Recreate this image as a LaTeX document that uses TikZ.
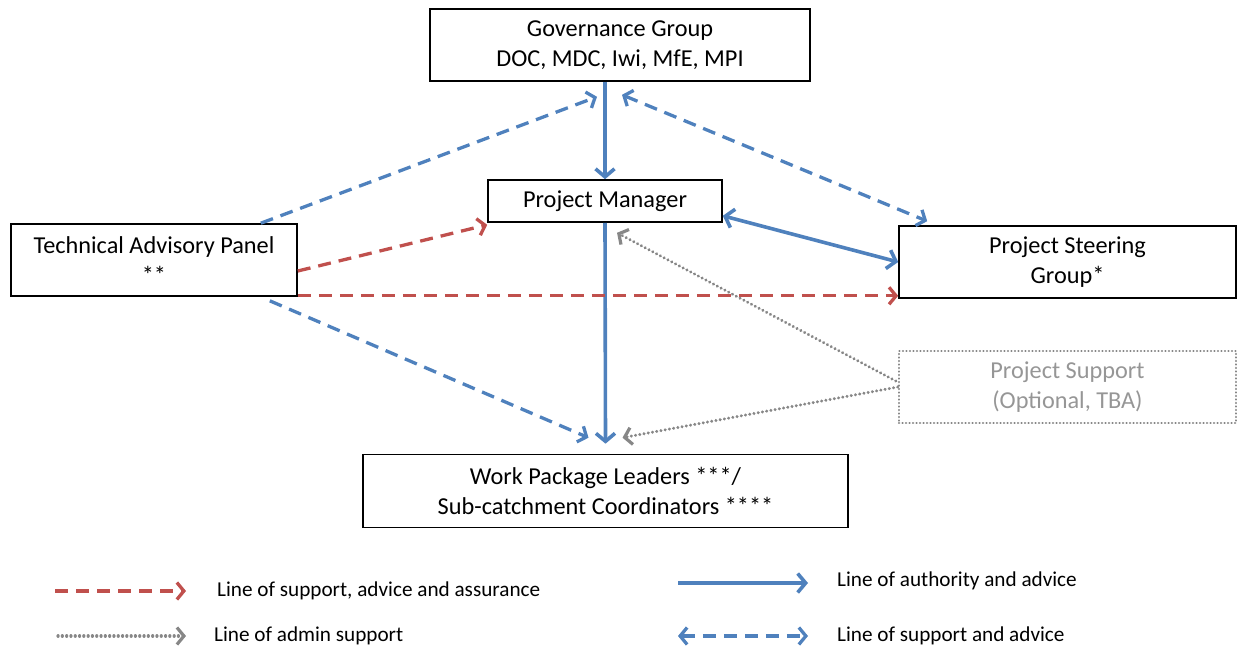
\documentclass[tikz,border=0pt]{standalone}
\usepackage{fontspec}
\setmainfont{Carlito}
\usetikzlibrary{arrows.meta}
\definecolor{ublue}{RGB}{79,129,189}
\definecolor{ured}{RGB}{192,80,77}
\definecolor{ugray}{RGB}{135,135,135}
\definecolor{utext}{RGB}{150,150,150}
\begin{document}
\begin{tikzpicture}[x=1pt,y=-1pt,
  box/.style={draw=black, line width=1.6pt, inner sep=0pt, align=center, font=\fontsize{24.3}{29.5}\selectfont},
  optbox/.style={box, draw=ugray, line width=2.4pt, dash pattern=on 0.1pt off 3.4pt, line cap=round, text=utext},
  legend/.style={inner sep=0pt, anchor=west, font=\fontsize{21.2}{24}\selectfont},
  authority/.style={draw=ublue, line width=3.6pt, -{Straight Barb[length=8pt,width=19pt]}},
  authboth/.style={authority, {Straight Barb[length=8pt,width=19pt]}-{Straight Barb[length=8pt,width=19pt]}},
  support/.style={draw=ublue, line width=3.3pt, dash pattern=on 13pt off 8pt, -{Straight Barb[length=7pt,width=17pt]}},
  suppboth/.style={support, {Straight Barb[length=7pt,width=17pt]}-{Straight Barb[length=7pt,width=17pt]}},
  assurance/.style={draw=ured, line width=3.3pt, dash pattern=on 13pt off 8pt, -{Straight Barb[length=7pt,width=17pt]}},
  admin/.style={draw=ugray, line width=3.2pt, dash pattern=on 0.1pt off 4.2pt, line cap=round, -{Straight Barb[length=7pt,width=17pt]}}
]
\useasboundingbox (0,0) rectangle (1237,647);

% boxes
\node[box, minimum width=380pt, minimum height=72pt] (gov) at (620,45) {Governance Group\\DOC, MDC, Iwi, MfE, MPI};
\node[box, minimum width=234pt, minimum height=42pt] (pm) at (605,201) {Project Manager};
\node[box, minimum width=286pt, minimum height=72pt] (tap) at (154,260) {Technical Advisory Panel\\**};
\node[box, minimum width=337pt, minimum height=72pt] (psg) at (1067.5,262) {Project Steering\\Group*};
\node[optbox, minimum width=337pt, minimum height=72pt] (ps) at (1067.5,387) {Project Support\\(Optional, TBA)};
\node[box, minimum width=485pt, minimum height=73pt] (wp) at (605.5,491) {Work Package Leaders ***/\\Sub-catchment Coordinators ****};

% connectors
\draw[authority] (pm |- gov.south) -- (pm.north);
\draw[authority] (pm.south) -- ([yshift=10pt]wp.north);
\draw[authboth] ([yshift=7pt]pm.south east) -- (psg.west);
\draw[suppboth] ([shift={(2pt,-13pt)}]gov.south) -- ([shift={(29pt,4pt)}]psg.north west);
\draw[support] ([xshift=-37pt]tap.north east) -- ([shift={(-23pt,-15pt)}]gov.south);
\draw[assurance] ([yshift=-11pt]tap.east) -- ([yshift=-2pt]pm.south west);
\coordinate (redh) at ([yshift=1pt]tap.south east);
\draw[assurance] (redh) -- (redh -| psg.west);
\draw[support] ([shift={(-28pt,-4pt)}]tap.south east) -- ([shift={(-17pt,16pt)}]wp.north);
\draw[admin] ([shift={(-2pt,6pt)}]ps.west) -- ([shift={(12pt,-10pt)}]pm.south);
\draw[admin] (ps.west) -- ([shift={(17pt,16pt)}]wp.north);

% legend
\node[legend] (l1) at (217,591) {Line of support, advice and assurance};
\node[legend] (l2) at (214,636) {Line of admin support};
\node[legend] (l3) at (837,581) {Line of authority and advice};
\node[legend] (l4) at (837,636) {Line of support and advice};
\coordinate (l1a) at (55,591);
\coordinate (l2a) at (58,636);
\coordinate (l3a) at (678,583);
\coordinate (l4a) at (678,636);
\draw[assurance] (l1a) -- ([xshift=-31pt]l1a -| l1.west);
\draw[admin] (l2a) -- ([xshift=-28pt]l2a -| l2.west);
\draw[authority] (l3a) -- ([xshift=-29pt]l3a -| l3.west);
\draw[suppboth] (l4a) -- ([xshift=-29pt]l4a -| l4.west);
\end{tikzpicture}
\end{document}
